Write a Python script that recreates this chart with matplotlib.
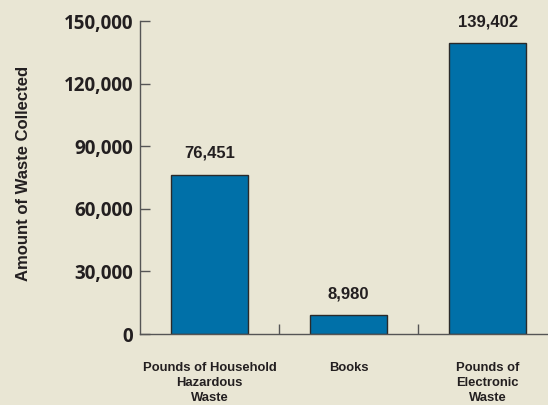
import matplotlib
matplotlib.use('Agg')
import matplotlib.pyplot as plt
from matplotlib import font_manager

# data
categories = ['Pounds of Household\nHazardous\nWaste', 'Books', 'Pounds of\nElectronic\nWaste']
values = [76451, 8980, 139402]
yticks = [0, 30000, 60000, 90000, 120000, 150000]

BG = '#e9e6d4'
BAR = '#0070a8'
TXT = '#231f20'

names = {f.name for f in font_manager.fontManager.ttflist}
narrow = 'Liberation Sans Narrow' if 'Liberation Sans Narrow' in names else 'Liberation Sans'


def find_bold(candidates):
    # humanist bold font for the y tick labels, non condensed
    for name in candidates:
        for f in font_manager.fontManager.ttflist:
            if f.name == name and f.weight in (700, 'bold') and f.stretch == 'normal' \
                    and f.style == 'normal':
                return font_manager.FontProperties(fname=f.fname)
    return font_manager.FontProperties(family='DejaVu Sans', weight='bold')


tick_fp = find_bold(['Open Sans', 'Noto Sans', 'Lato', 'DejaVu Sans'])
tick_fp.set_size(13.5)

fig = plt.figure(figsize=(5.48, 4.05), dpi=100, facecolor=BG)
ax = fig.add_axes([0.2555, 0.1753, 0.7445, 0.7727], facecolor=BG)

x = list(range(len(categories)))
ax.bar(x, values, width=0.56, color=BAR, edgecolor='#2a2a2a', linewidth=1.0, zorder=2)

for xi, v in zip(x, values):
    ax.annotate(f'{v:,}', (xi, v), xytext=(0, 10), textcoords='offset points',
                ha='center', va='bottom', fontsize=12, fontweight='bold',
                family='Liberation Sans', color=TXT)

ax.set_xlim(-0.5, 2.435)
ax.set_ylim(0, 150000)

ax.set_yticks(yticks)
ax.set_yticklabels([f'{t:,}' for t in yticks], fontproperties=tick_fp, color=TXT)
ax.tick_params(axis='y', direction='in', length=7, width=1, color='#555555', pad=5)

# category labels drawn as text, ticks at category boundaries
ax.set_xticks([0.5, 1.5])
ax.set_xticklabels(['', ''])
ax.tick_params(axis='x', direction='in', length=7, width=1, color='#555555')
for xi, c in zip(x, categories):
    ax.text(xi, -0.09, c, transform=ax.get_xaxis_transform(), ha='center', va='top',
            fontsize=9.4, fontweight='bold', family=narrow, color=TXT, linespacing=1.3)

for s in ['top', 'right']:
    ax.spines[s].set_visible(False)
for s in ['left', 'bottom']:
    ax.spines[s].set_color('#555555')
    ax.spines[s].set_linewidth(1)

fig.text(0.042, 0.572, 'Amount of Waste Collected', rotation=90, ha='center', va='center',
         fontsize=12, fontweight='bold', family='Liberation Sans', color=TXT)

fig.savefig('out.png', dpi=100, facecolor=BG)
